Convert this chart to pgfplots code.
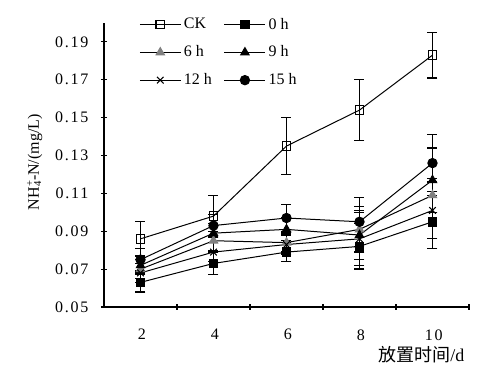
\documentclass[border=0pt]{standalone}
\usepackage{pgfplots}
\pgfplotsset{compat=1.18}
\usepackage{fontspec}
\setmainfont{Liberation Serif}
\newfontfamily\tickfont[LetterSpace=11]{Liberation Serif}
\newfontfamily\cjk{Noto Sans CJK SC}
\begin{document}
\begin{tikzpicture}
\begin{axis}[
  scale only axis, width=273.75pt, height=213pt,
  xmin=0.5, xmax=5.5, ymin=0.05, ymax=0.20,
  axis lines=left, axis line style={-, line width=1pt},
  xtick={1,2,3,4,5}, xticklabels={2,4,6,8,10},
  major x tick style={draw=none},
  minor xtick={1.5,2.5,3.5,4.5,5.5},
  minor tick length=4.5pt, major tick length=4.5pt,
  tick style={line width=0.8pt, black},
  ytick={0.05,0.07,0.09,0.11,0.13,0.15,0.17,0.19},
  yticklabel style={/pgf/number format/fixed, /pgf/number format/precision=2, /pgf/number format/fixed zerofill, xshift=-6pt},
  xticklabel style={yshift=-11pt, xshift=1pt},
  /pgf/number format/assume math mode=true,
  tick label style={font=\tickfont\fontsize{12}{14}\selectfont},
  ylabel={NH\rlap{\textsuperscript{+}}\textsubscript{4}-N/(mg/L)},
  ylabel style={at={(axis description cs:-0.19,0.51)}, anchor=center, font=\fontsize{12}{14}\selectfont},
  xlabel={{\cjk 放置时间}/d},
  xlabel style={at={(axis description cs:1.0,0)}, anchor=north east, yshift=-26pt, font=\fontsize{13.5}{15}\selectfont},
  clip=false,
  every axis plot/.append style={black, line width=0.75pt},
  error bars/y dir=both, error bars/y explicit,
  error bars/error bar style={line width=1pt, black},
  error bars/error mark options={rotate=90, mark size=3.75pt, line width=1pt, black},
  legend columns=2,
  legend style={draw=none, fill=none, at={(axis description cs:0.085,1.037)}, anchor=north west,
    font=\fontsize{12}{14}\selectfont, row sep=7pt,
    /tikz/every even column/.append style={column sep=7pt}},
  legend cell align=left,
  legend image code/.code={\draw[mark repeat=2,mark phase=2] plot coordinates {(0cm,0cm) (0.54cm,0cm) (1.08cm,0cm)};},
]
\addplot[mark=square, mark size=3.2pt, mark options={fill=white, line width=0.8pt}]
  coordinates {(1,0.086) +- (0,0.009) (2,0.098) +- (0,0.011) (3,0.135) +- (0,0.015) (4,0.154) +- (0,0.016) (5,0.183) +- (0,0.012)};
\addlegendentry{CK}
\addplot[mark=square*, mark size=3.2pt]
  coordinates {(1,0.063) +- (0,0.005) (2,0.073) +- (0,0.006) (3,0.079) +- (0,0.005) (4,0.082) +- (0,0.012) (5,0.095) +- (0,0.014)};
\addlegendentry{0 h}
\addplot[mark=triangle*, mark size=3.6pt, mark options={fill=gray, draw=gray}]
  coordinates {(1,0.070) +- (0,0.005) (2,0.085) +- (0,0.005) (3,0.084) +- (0,0.005) (4,0.091) +- (0,0.012) (5,0.109) +- (0,0.009)};
\addlegendentry{6 h}
\addplot[mark=triangle*, mark size=3.6pt]
  coordinates {(1,0.072) +- (0,0.005) (2,0.089) +- (0,0.005) (3,0.091) +- (0,0.006) (4,0.088) +- (0,0.013) (5,0.117) +- (0,0.017)};
\addlegendentry{9 h}
\addplot[mark=x, mark size=3.5pt, mark options={line width=0.8pt}]
  coordinates {(1,0.068) +- (0,0.005) (2,0.079) +- (0,0.005) (3,0.083) +- (0,0.005) (4,0.086) +- (0,0.014) (5,0.101) +- (0,0.015)};
\addlegendentry{12 h}
\addplot[mark=*, mark size=3.5pt]
  coordinates {(1,0.075) +- (0,0.006) (2,0.093) +- (0,0.006) (3,0.097) +- (0,0.007) (4,0.095) +- (0,0.013) (5,0.126) +- (0,0.015)};
\addlegendentry{15 h}
\end{axis}
\path (current axis.south west) ++(-78pt,-52.5pt) rectangle ++(375pt,282.75pt);
\end{tikzpicture}
\end{document}
